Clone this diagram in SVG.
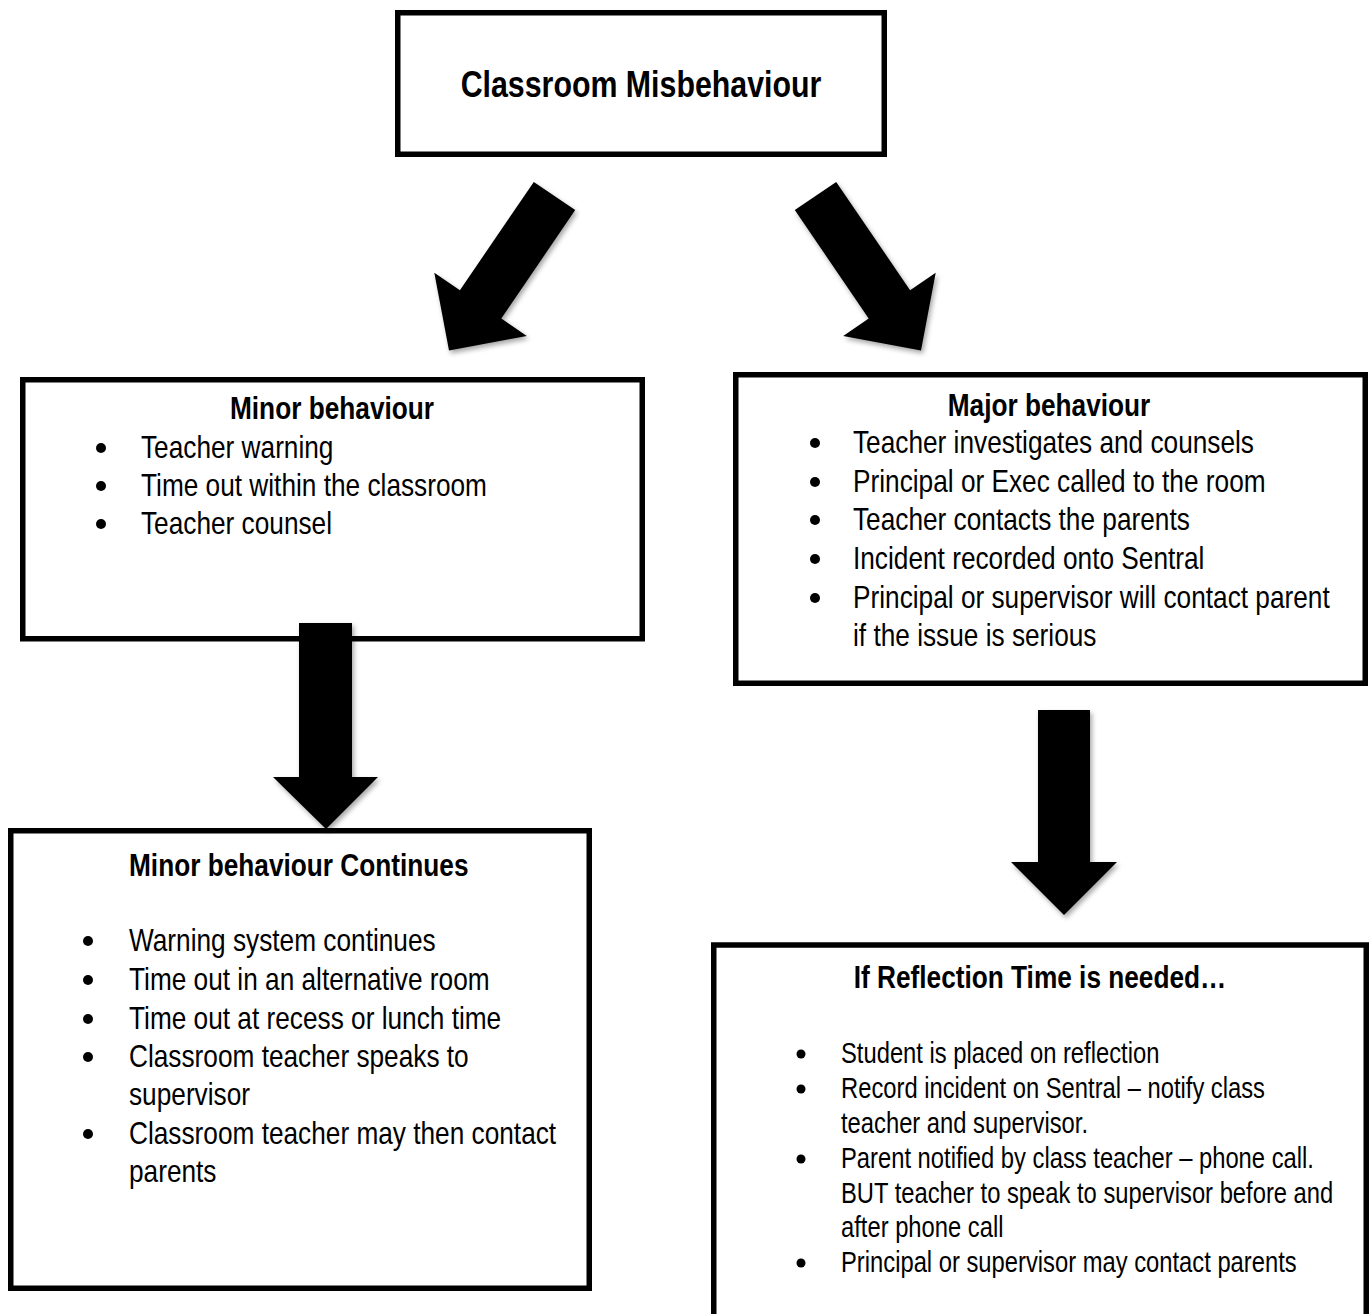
<svg xmlns="http://www.w3.org/2000/svg" width="1372" height="1314" viewBox="0 0 1372 1314">
<style>
  .box { fill: #ffffff; stroke: #000000; stroke-width: 5.5; }
  .t { font-family: "Liberation Sans", Arial, sans-serif; fill: #000000; }
  .h0 { font-size: 37px; font-weight: bold; }
  .h { font-size: 32px; font-weight: bold; }
  .b { font-size: 32px; }
  .s { font-size: 29px; }
  .arrow { fill: #000000; }
  .dot { fill: #000000; }
</style>
<defs>
  <filter id="shadow" x="-20%" y="-20%" width="140%" height="140%">
    <feDropShadow dx="2" dy="3" stdDeviation="2.5" flood-color="#000000" flood-opacity="0.35"/>
  </filter>
</defs>
<rect x="0" y="0" width="1372" height="1314" fill="#ffffff"/>

<g id="node-classroom">
  <rect class="box" x="397.75" y="12.75" width="486.5" height="141.5"/>
  <text class="t h0" text-anchor="middle" transform="translate(641 97) scale(0.82 1)">Classroom Misbehaviour</text>
</g>

<g id="node-minor">
  <rect class="box" x="22.75" y="379.75" width="619.5" height="259"/>
  <text class="t h" text-anchor="middle" transform="translate(332 419) scale(0.82 1)">Minor behaviour</text>
  <circle class="dot" cx="101" cy="448" r="5"/>
  <text class="t b" transform="translate(141 458) scale(0.82 1)">Teacher warning</text>
  <circle class="dot" cx="101" cy="486" r="5"/>
  <text class="t b" transform="translate(141 496) scale(0.82 1)">Time out within the classroom</text>
  <circle class="dot" cx="101" cy="524" r="5"/>
  <text class="t b" transform="translate(141 534) scale(0.82 1)">Teacher counsel</text>
</g>

<g id="node-major">
  <rect class="box" x="735.75" y="374.75" width="629.5" height="308.5"/>
  <text class="t h" text-anchor="middle" transform="translate(1049 416) scale(0.82 1)">Major behaviour</text>
  <circle class="dot" cx="815" cy="443" r="5"/>
  <text class="t b" transform="translate(853 453) scale(0.82 1)">Teacher investigates and counsels</text>
  <circle class="dot" cx="815" cy="482" r="5"/>
  <text class="t b" transform="translate(853 492) scale(0.82 1)">Principal or Exec called to the room</text>
  <circle class="dot" cx="815" cy="520" r="5"/>
  <text class="t b" transform="translate(853 530) scale(0.82 1)">Teacher contacts the parents</text>
  <circle class="dot" cx="815" cy="559" r="5"/>
  <text class="t b" transform="translate(853 569) scale(0.82 1)">Incident recorded onto Sentral</text>
  <circle class="dot" cx="815" cy="598" r="5"/>
  <text class="t b" transform="translate(853 608) scale(0.82 1)">Principal or supervisor will contact parent</text>
  <text class="t b" transform="translate(853 646) scale(0.82 1)">if the issue is serious</text>
</g>

<g id="node-minor-continues">
  <rect class="box" x="10.75" y="830.75" width="578.5" height="457.5"/>
  <text class="t h" transform="translate(129 876) scale(0.82 1)">Minor behaviour Continues</text>
  <circle class="dot" cx="88" cy="941" r="5"/>
  <text class="t b" transform="translate(129 951) scale(0.82 1)">Warning system continues</text>
  <circle class="dot" cx="88" cy="980" r="5"/>
  <text class="t b" transform="translate(129 990) scale(0.82 1)">Time out in an alternative room</text>
  <circle class="dot" cx="88" cy="1019" r="5"/>
  <text class="t b" transform="translate(129 1029) scale(0.82 1)">Time out at recess or lunch time</text>
  <circle class="dot" cx="88" cy="1057" r="5"/>
  <text class="t b" transform="translate(129 1067) scale(0.82 1)">Classroom teacher speaks to</text>
  <text class="t b" transform="translate(129 1105) scale(0.82 1)">supervisor</text>
  <circle class="dot" cx="88" cy="1134" r="5"/>
  <text class="t b" transform="translate(129 1144) scale(0.82 1)">Classroom teacher may then contact</text>
  <text class="t b" transform="translate(129 1182) scale(0.82 1)">parents</text>
</g>

<g id="node-reflection">
  <rect class="box" x="713.75" y="945" width="652.5" height="420"/>
  <text class="t h" text-anchor="middle" transform="translate(1040 988) scale(0.82 1)">If Reflection Time is needed…</text>
  <circle class="dot" cx="801" cy="1054" r="4.5"/>
  <text class="t s" transform="translate(841 1063) scale(0.82 1)">Student is placed on reflection</text>
  <circle class="dot" cx="801" cy="1089" r="4.5"/>
  <text class="t s" transform="translate(841 1098) scale(0.82 1)">Record incident on Sentral – notify class</text>
  <text class="t s" transform="translate(841 1133) scale(0.82 1)">teacher and supervisor.</text>
  <circle class="dot" cx="801" cy="1159" r="4.5"/>
  <text class="t s" transform="translate(841 1168) scale(0.82 1)">Parent notified by class teacher – phone call.</text>
  <text class="t s" transform="translate(841 1203) scale(0.82 1)">BUT teacher to speak to supervisor before and</text>
  <text class="t s" transform="translate(841 1237) scale(0.82 1)">after phone call</text>
  <circle class="dot" cx="801" cy="1263" r="4.5"/>
  <text class="t s" transform="translate(841 1272) scale(0.82 1)">Principal or supervisor may contact parents</text>
</g>

<g id="connectors" filter="url(#shadow)">
  <polygon id="arrow-to-minor" class="arrow" points="533.8,181.9 575.2,210.1 501.3,318.4 526.8,335.9 449,350.6 434.3,272.7 459.9,290.2"/>
  <polygon id="arrow-to-major" class="arrow" points="836.2,181.9 794.8,210.1 868.7,318.4 843.2,335.9 921,350.6 935.7,272.7 910.1,290.2"/>
  <polygon id="arrow-minor-continues" class="arrow" points="299,623 352,623 352,777 378,777 326,829 273,777 299,777"/>
  <polygon id="arrow-reflection" class="arrow" points="1038,710 1090,710 1090,862 1117,862 1064,915 1011,862 1038,862"/>
</g>
</svg>
